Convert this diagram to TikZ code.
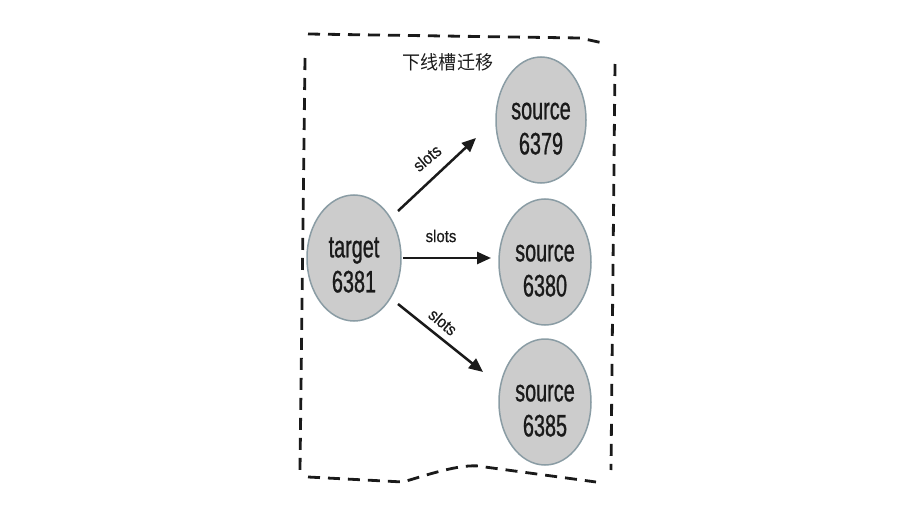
\documentclass[tikz,border=0pt]{standalone}
\usepackage{fontspec}
\setmainfont{Liberation Sans}
\newfontfamily\nodefont[FakeStretch=0.64,FakeBold=0.8]{Liberation Sans}
\newfontfamily\lblfont[FakeStretch=0.88,FakeBold=0.5]{Liberation Sans}
\newfontfamily\cjk[FakeStretch=0.95]{Noto Sans CJK SC}
\usetikzlibrary{arrows.meta,shapes.geometric,calc}
\definecolor{nodefill}{HTML}{CCCCCC}
\definecolor{nodeedge}{HTML}{8A9CA4}
\definecolor{inkc}{HTML}{1A1A1A}
\newcommand{\tstrut}{\rule{0pt}{34pt}}
\begin{document}
\begin{tikzpicture}[x=1pt,y=-1pt,
  srv/.style={ellipse, draw=nodeedge, line width=1.5pt, fill=nodefill, minimum width=92pt, minimum height=126pt, inner sep=0pt, align=center, font=\nodefont\fontsize{31}{35}\selectfont, text=inkc},
  link/.style={-{Triangle[length=14pt,width=12pt]}, line width=2.5pt, draw=inkc},
  lbl/.style={font=\lblfont\fontsize{17}{19}\selectfont, text=inkc, inner sep=0pt},
  frame/.style={dash pattern=on 12pt off 8pt, line width=2.8pt, draw=inkc}]
\useasboundingbox (0,0) rectangle (906,522);
\draw[frame] (308,34) -- (580,38) -- (603,43);
\draw[frame] (305,58) -- (300,470);
\draw[frame] (615,64) -- (611,470);
\draw[frame] (308,477) -- (403,482) .. controls (430,474) and (465,462) .. (485,467) -- (596,482);
\node[font=\cjk\fontsize{19}{21}\selectfont, text=inkc] (title) at (448,62) {下线槽迁移};
\node[srv, minimum width=94pt] (t) at (354,258) {\tstrut target\\6381};
\node[srv, minimum width=90pt] (s1) at (541,120) {\tstrut source\\6379};
\node[srv] (s2) at (545,262) {\tstrut source\\6380};
\node[srv] (s3) at (545,402) {\tstrut source\\6385};
\draw[link] ($(t)+(44,-47)$) -- ($(s1)+(-65,18)$);
\draw[link] ($(t)+(49,0)$) -- ($(s2)+(-54,-4)$);
\draw[link] ($(t)+(44,46)$) -- ($(s3)+(-62,-30)$);
\node[lbl, rotate=40] (l1) at (427,158) {slots};
\node[lbl] (l2) at (441,236) {slots};
\node[lbl, rotate=-40] (l3) at (443,322) {slots};
\end{tikzpicture}
\end{document}
